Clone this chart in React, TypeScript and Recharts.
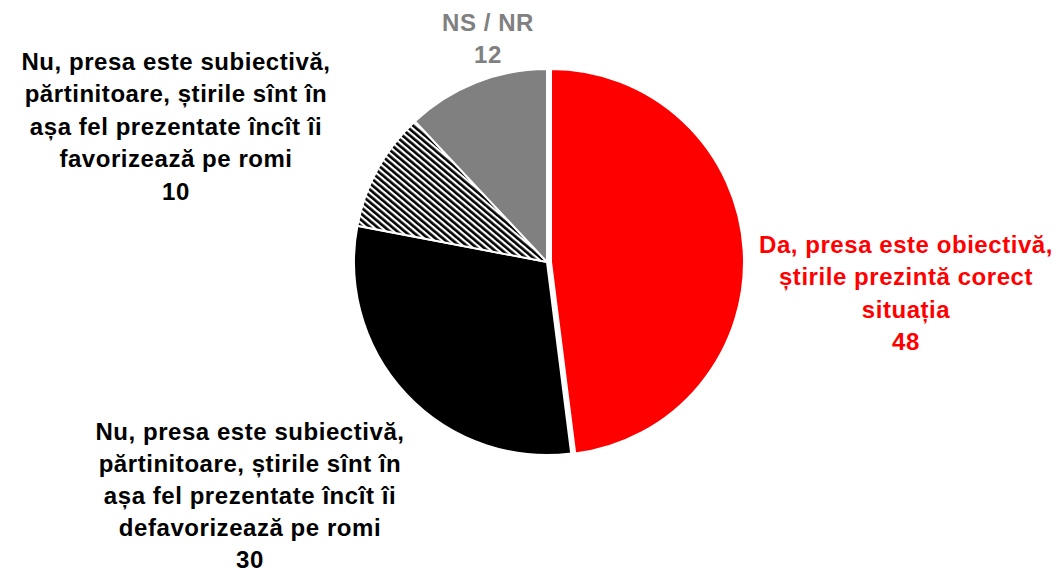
import React from "react";
import { PieChart, Pie, Cell } from "recharts";

// answers, clockwise from 12 o'clock
const categories = [
  "Da, presa este obiectivă, știrile prezintă corect situația",
  "Nu, presa este subiectivă, părtinitoare, știrile sînt în așa fel prezentate încît îi defavorizează pe romi",
  "Nu, presa este subiectivă, părtinitoare, știrile sînt în așa fel prezentate încît îi favorizează pe romi",
  "NS / NR",
];
const values = [48, 30, 10, 12];

// how each category label is broken into lines
const labelLines = [
  ["Da, presa este obiectivă,", "știrile prezintă corect", "situația"],
  ["Nu, presa este subiectivă,", "părtinitoare, știrile sînt în", "așa fel prezentate încît îi", "defavorizează pe romi"],
  ["Nu, presa este subiectivă,", "părtinitoare, știrile sînt în", "așa fel prezentate încît îi", "favorizează pe romi"],
  ["NS / NR"],
];

const fills = ["#ff0000", "#000000", "url(#hatch)", "#808080"];
const textColors = ["#ff0000", "#000000", "#000000", "#808080"];
// label anchor: centre x, first baseline y, line step
const labelPos = [
  { x: 906, y: 253, step: 32.3 },
  { x: 250, y: 440, step: 32 },
  { x: 176, y: 70, step: 32.4 },
  { x: 488, y: 31, step: 32 },
];

const data = categories.map((name, i) => ({ name, value: values[i] }));

const renderLabel = (props: any) => {
  const i = props.index;
  const pos = labelPos[i];
  const lines = [...labelLines[i], String(values[i])];
  return (
    <text
      key={`lbl-${i}`}
      x={pos.x}
      y={pos.y}
      textAnchor="middle"
      fill={textColors[i]}
      style={{
        fontFamily: "'Liberation Sans', Arial, sans-serif",
        fontWeight: "bold",
        fontSize: 24,
        letterSpacing: 0.55,
      }}
    >
      {lines.map((l, k) => (
        <tspan key={k} x={pos.x} y={pos.y + k * pos.step}>
          {l}
        </tspan>
      ))}
    </text>
  );
};

export default function App() {
  return (
    <div style={{ position: "absolute", left: 0, top: 0, width: 1059, height: 571, background: "white" }}>
      <PieChart width={1059} height={571} margin={{ top: 0, right: 0, bottom: 0, left: 0 }}>
        <defs>
          <pattern
            id="hatch"
            patternUnits="userSpaceOnUse"
            width="8"
            height="4.8"
            patternTransform="rotate(40)"
          >
            <rect x="0" y="0" width="8" height="4.8" fill="#000" />
            <rect x="0" y="0" width="8" height="2.2" fill="#fff" />
          </pattern>
        </defs>
        <Pie
          data={data}
          dataKey="value"
          cx={547}
          cy={262}
          outerRadius={193}
          startAngle={90}
          endAngle={-270}
          stroke="#ffffff"
          strokeWidth={2}
          label={renderLabel}
          labelLine={false}
          isAnimationActive={false}
        >
          {data.map((d, i) => (
            <Cell
              key={d.name}
              fill={i === 0 ? "none" : fills[i]}
              stroke={i === 0 ? "none" : "#ffffff"}
            />
          ))}
        </Pie>
        {/* exploded first slice */}
        <Pie
          data={data}
          dataKey="value"
          cx={551}
          cy={262}
          outerRadius={193}
          startAngle={90}
          endAngle={-270}
          strokeWidth={2}
          isAnimationActive={false}
        >
          {data.map((d, i) => (
            <Cell
              key={d.name}
              fill={i === 0 ? fills[0] : "none"}
              stroke={i === 0 ? "#ffffff" : "none"}
            />
          ))}
        </Pie>
      </PieChart>
    </div>
  );
}
